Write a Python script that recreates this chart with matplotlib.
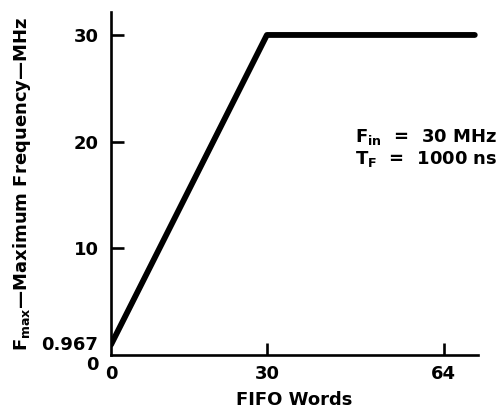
import matplotlib
matplotlib.use("Agg")
import matplotlib.pyplot as plt
import matplotlib.transforms as mtransforms

plt.rcParams['font.family'] = ['DejaVu Sans']
plt.rcParams['font.weight'] = 'bold'
plt.rcParams['mathtext.fontset'] = 'custom'
plt.rcParams['mathtext.rm'] = 'DejaVu Sans:bold'
plt.rcParams['mathtext.it'] = 'DejaVu Sans:bold'
plt.rcParams['mathtext.bf'] = 'DejaVu Sans:bold'

# Data
fifo_words = [0, 30, 70]
fmax_mhz = [0.967, 30, 30]
x_ticks = [0, 30, 64]
x_tick_labels = ["0", "30", "64"]
y_major_ticks = [10, 20, 30]
y_major_labels = ["10", "20", "30"]
y_minor_ticks = [0, 0.967]
y_minor_labels = ["0", "0.967"]

fig = plt.figure(figsize=(5.04, 4.12), dpi=100)
ax = fig.add_axes([0.2202, 0.1383, 0.728, 0.8325])

ax.plot(fifo_words, fmax_mhz, color='black', lw=4.2, solid_capstyle='round',
        solid_joinstyle='round')

ax.set_xlim(0, 70.6)
ax.set_ylim(0, 32.15)

for s in ['top', 'right']:
    ax.spines[s].set_visible(False)
for s in ['left', 'bottom']:
    ax.spines[s].set_linewidth(1.9)

ax.set_xticks(x_ticks)
ax.set_xticklabels(x_tick_labels)
ax.set_yticks(y_major_ticks)
ax.set_yticklabels(y_major_labels)
ax.set_yticks(y_minor_ticks, minor=True)
ax.set_yticklabels(y_minor_labels, minor=True)

ax.tick_params(axis='both', which='major', direction='in', length=9, width=1.9,
               labelsize=13)
ax.tick_params(axis='y', which='major', pad=9)
ax.tick_params(axis='x', which='major', pad=7)
ax.tick_params(axis='y', which='minor', length=0, labelsize=13, pad=9)

# hide the tick mark at x=0 (coincides with the axis)
ax.xaxis.get_major_ticks()[0].tick1line.set_visible(False)

# shift the "0" y label slightly down, "0.967" slightly up
minor_labels = ax.yaxis.get_minorticklabels()
minor_labels[0].set_transform(minor_labels[0].get_transform() +
                              mtransforms.ScaledTranslation(0, -8/100, fig.dpi_scale_trans))
minor_labels[1].set_transform(minor_labels[1].get_transform() +
                              mtransforms.ScaledTranslation(0, 2/100, fig.dpi_scale_trans))

ax.set_xlabel("FIFO Words", fontsize=13, fontweight='bold', labelpad=6)
ax.set_ylabel(r"$F_{max}$—Maximum Frequency—MHz", fontsize=13, fontweight='bold',
              labelpad=6)

ax.text(0.665, 0.621, r"$F_{in}$  =  30 MHz", transform=ax.transAxes,
        fontsize=13, fontweight='bold', ha='left', va='baseline')
ax.text(0.665, 0.557, r"$T_F$  =  1000 ns", transform=ax.transAxes,
        fontsize=13, fontweight='bold', ha='left', va='baseline')

fig.savefig("out.png", dpi=100)
